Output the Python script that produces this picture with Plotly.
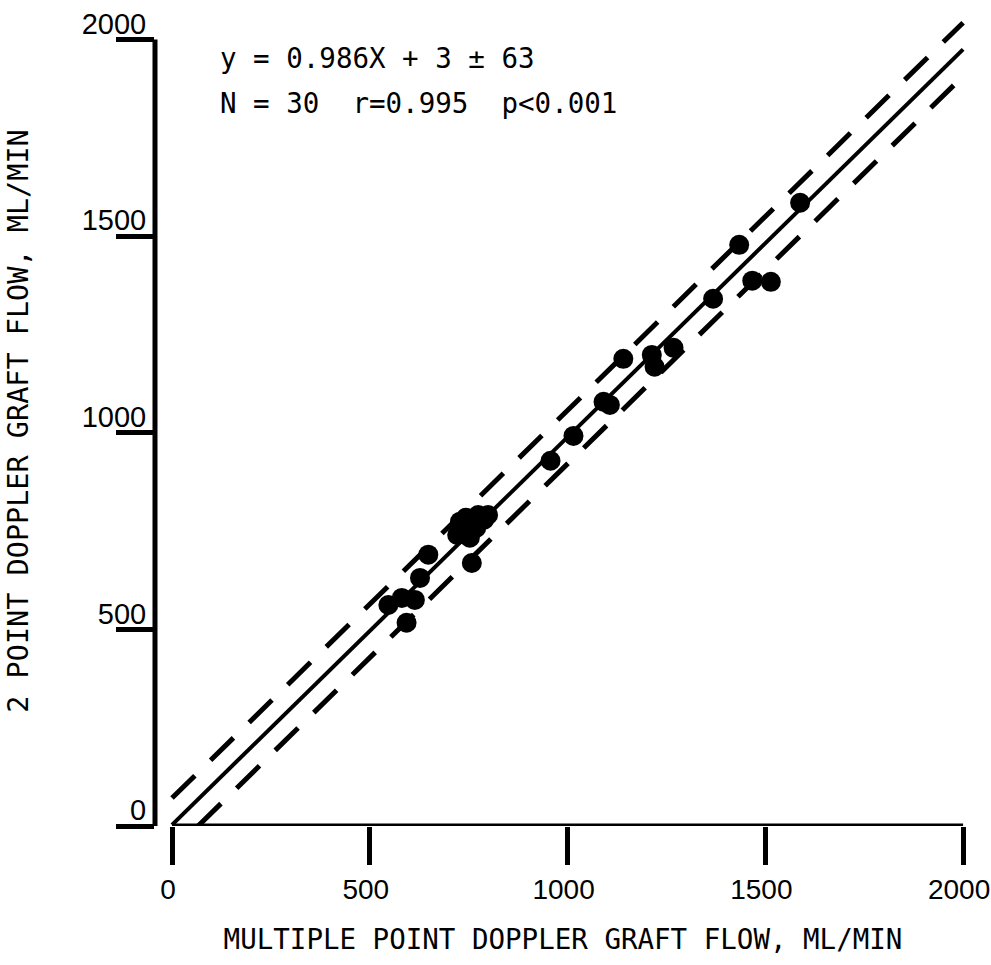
import plotly.graph_objects as go

# Data (ML/MIN)
multi_point_flow = [1588, 1434, 1467, 1514, 1368, 1141, 1213, 1220, 1268, 1091,
                    1107, 1015, 957, 758, 648, 627, 547, 581, 614, 593,
                    728, 774, 789, 721, 753, 769, 743, 759, 799, 736]
two_point_flow = [1585, 1478, 1387, 1384, 1341, 1188, 1198, 1168, 1216, 1079,
                  1071, 992, 929, 669, 690, 631, 562, 580, 575, 517,
                  774, 791, 779, 740, 733, 758, 784, 753, 791, 758]

slope = 0.986
intercept = 3
band = 68  # visual offset of dashed lines

tick_vals = [0, 500, 1000, 1500, 2000]
tick_text = ["0", "500", "1000", "1500", "2000"]

x_title = "MULTIPLE POINT DOPPLER GRAFT FLOW, ML/MIN"
y_title = "2 POINT DOPPLER GRAFT FLOW, ML/MIN"
eq_line1 = "y = 0.986X + 3 \u00b1 63"
eq_line2 = "N = 30  r=0.995  p<0.001"

FONT = "Liberation Sans, sans-serif"
MONO = "DejaVu Sans Mono, monospace"

fig = go.Figure()

# Regression line
xl = [0, 2000]
fig.add_trace(go.Scatter(x=xl, y=[slope * v + intercept for v in xl], mode="lines",
                         line=dict(color="black", width=4), hoverinfo="skip", showlegend=False))
# Upper dashed
fig.add_trace(go.Scatter(x=xl, y=[slope * v + intercept + band for v in xl], mode="lines",
                         line=dict(color="black", width=5, dash="32px,22px"),
                         hoverinfo="skip", showlegend=False))
# Lower dashed
x_low0 = (band - intercept) / slope
xl2 = [x_low0, 2000]
fig.add_trace(go.Scatter(x=xl2, y=[slope * v + intercept - band for v in xl2], mode="lines",
                         line=dict(color="black", width=5, dash="32px,22px"),
                         hoverinfo="skip", showlegend=False))

# Points
fig.add_trace(go.Scatter(x=multi_point_flow, y=two_point_flow, mode="markers",
                         marker=dict(color="black", size=20, line=dict(width=0)),
                         showlegend=False))

# Axis lines
fig.add_shape(type="line", xref="x", yref="y", x0=0, x1=2000, y0=0, y1=0,
              line=dict(color="black", width=5))
fig.add_shape(type="line", xref="paper", yref="y", x0=0, x1=0, y0=0, y1=2000,
              line=dict(color="black", width=5))

# Equation text
fig.add_annotation(x=116, y=1954, xref="x", yref="y", text=eq_line1, showarrow=False,
                   xanchor="left", yanchor="middle", font=dict(family=MONO, size=27.5, color="black"))
fig.add_annotation(x=116, y=1840, xref="x", yref="y", text=eq_line2, showarrow=False,
                   xanchor="left", yanchor="middle", font=dict(family=MONO, size=27.5, color="black"))

fig.update_layout(
    width=991, height=965,
    margin=dict(l=155, r=20, t=16, b=139, autoexpand=False),
    paper_bgcolor="white", plot_bgcolor="white",
    font=dict(family=FONT, color="black", size=28),
    xaxis=dict(range=[-43, 2020], tickvals=tick_vals, ticktext=tick_text,
               ticks="outside", ticklen=38, tickwidth=5, tickcolor="black",
               showline=False, showgrid=False, zeroline=False,
               ticklabeloverflow="allow", automargin=False, ticklabelshift=-4,
               tickfont=dict(family=FONT, size=28, color="black"),
               title=dict(text=x_title, font=dict(family=MONO, size=27.5, color="black"), standoff=26)),
    yaxis=dict(range=[0, 2060], tickvals=tick_vals, ticktext=tick_text,
               ticks="outside", ticklen=38, tickwidth=5, tickcolor="black",
               showline=False, showgrid=False, zeroline=False,
               ticklabelshift=-16, ticklabelstandoff=-36, automargin=False,
               tickfont=dict(family=FONT, size=29, color="black"),
               title=dict(text=y_title, font=dict(family=MONO, size=28.5, color="black"), standoff=44)),
)

fig.write_html("out.html")
